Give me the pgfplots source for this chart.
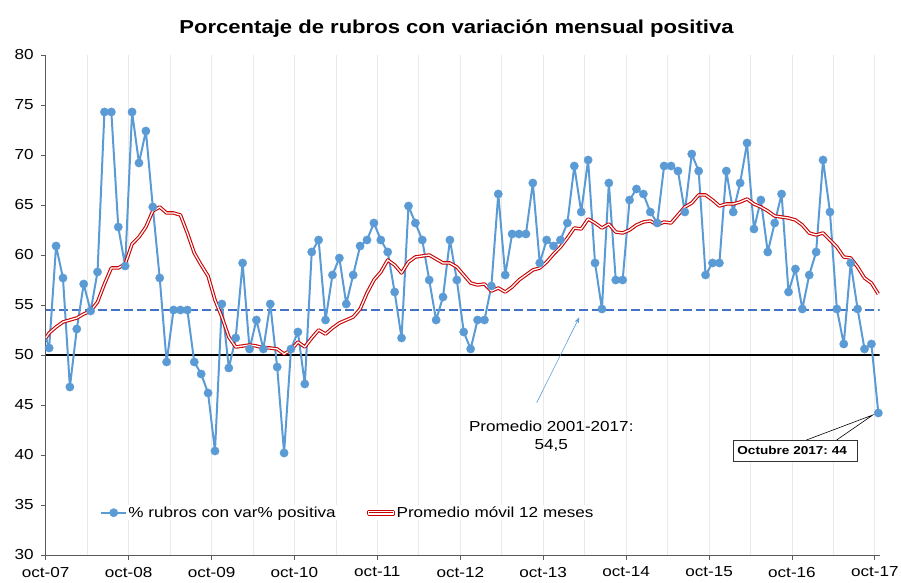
\documentclass[border=0pt]{standalone}
\usepackage{fontspec}
\setmainfont{Liberation Sans}[FakeStretch=1.18]
\usepackage{pgfplots}
\pgfplotsset{compat=1.18}
\usetikzlibrary{arrows.meta}
\definecolor{serieblue}{RGB}{91,155,213}
\definecolor{avgblue}{RGB}{68,114,196}
\definecolor{mared}{RGB}{204,0,0}
\definecolor{gridgray}{RGB}{234,234,234}
\definecolor{axgray}{RGB}{90,90,90}

\pgfplotstableread{
i v
0 50.7
1 60.9
2 57.7
3 46.8
4 52.6
5 57.1
6 54.4
7 58.3
8 74.3
9 74.3
10 62.8
11 58.9
12 74.3
13 69.2
14 72.4
15 64.8
16 57.7
17 49.3
18 54.5
19 54.5
20 54.5
21 49.3
22 48.1
23 46.2
24 40.4
25 55.1
26 48.7
27 51.7
28 59.2
29 50.6
30 53.5
31 50.6
32 55.1
33 48.8
34 40.2
35 50.6
36 52.3
37 47.1
38 60.3
39 61.5
40 53.5
41 58.0
42 59.7
43 55.1
44 58.0
45 60.9
46 61.5
47 63.2
48 61.5
49 60.3
50 56.3
51 51.7
52 64.9
53 63.2
54 61.5
55 57.5
56 53.5
57 55.8
58 61.5
59 57.5
60 52.3
61 50.6
62 53.5
63 53.5
64 56.9
65 66.1
66 58.0
67 62.1
68 62.1
69 62.1
70 67.2
71 59.2
72 61.5
73 60.9
74 61.5
75 63.2
76 68.9
77 64.3
78 69.5
79 59.2
80 54.6
81 67.2
82 57.5
83 57.5
84 65.5
85 66.6
86 66.1
87 64.3
88 63.2
89 68.9
90 68.9
91 68.4
92 64.3
93 70.1
94 68.4
95 58.0
96 59.2
97 59.2
98 68.4
99 64.3
100 67.2
101 71.2
102 62.6
103 65.5
104 60.3
105 63.2
106 66.1
107 56.3
108 58.6
109 54.6
110 58.0
111 60.3
112 69.5
113 64.3
114 54.6
115 51.1
116 59.2
117 54.6
118 50.6
119 51.1
120 44.2
}\rubros

\pgfplotstableread{
i v
-0.5 51.7
0 52.2
1 52.8
2 53.3
3 53.5
4 53.7
5 54.1
6 54.4
7 55.3
8 57.1
9 58.7
10 58.7
11 59.1
12 61.1
13 61.8
14 62.8
15 64.4
16 64.8
17 64.2
18 64.2
19 64.0
20 62.2
21 60.2
22 59.0
23 57.9
24 55.5
25 53.8
26 51.8
27 50.8
28 50.9
29 51.0
30 50.9
31 50.7
32 50.7
33 50.6
34 50.1
35 50.5
36 51.3
37 50.8
38 51.7
39 52.5
40 52.1
41 52.7
42 53.2
43 53.5
44 53.8
45 54.6
46 56.2
47 57.5
48 58.3
49 59.5
50 59.0
51 58.2
52 59.3
53 59.8
54 59.9
55 60.0
56 59.6
57 59.2
58 59.2
59 58.8
60 58.0
61 57.2
62 57.0
63 57.1
64 56.4
65 56.7
66 56.3
67 56.8
68 57.5
69 58.0
70 58.5
71 58.7
72 59.3
73 60.1
74 60.8
75 61.7
76 62.7
77 62.6
78 63.6
79 63.2
80 62.7
81 63.1
82 62.3
83 62.2
84 62.5
85 63.0
86 63.3
87 63.4
88 63.0
89 63.3
90 63.2
91 64.0
92 64.8
93 65.2
94 66.0
95 66.0
96 65.5
97 64.9
98 65.1
99 65.1
100 65.3
101 65.6
102 65.1
103 64.8
104 64.4
105 63.9
106 63.8
107 63.7
108 63.5
109 63.0
110 62.2
111 62.0
112 62.2
113 61.5
114 60.8
115 59.8
116 59.7
117 58.8
118 57.7
119 57.2
120 56.1
}\movil

\begin{document}
\begin{tikzpicture}
\begin{axis}[
  at={(0,0)}, anchor=south west,
  scale only axis, width=834bp, height=500bp,
  xmin=-0.5, xmax=120.2, ymin=30, ymax=80,
  axis x line*=bottom, axis y line*=left,
  axis line style={axgray, line width=0.8bp, -},
  tick align=outside, major tick length=4.5bp, minor tick length=0pt,
  tick style={axgray, line width=0.8bp},
  xtick={-0.5,11.5,23.5,35.5,47.5,59.5,71.5,83.5,95.5,107.5,119.5},
  xticklabels={oct-07,oct-08,oct-09,oct-10,oct-11,oct-12,oct-13,oct-14,oct-15,oct-16,oct-17},
  minor xtick={5.5,17.5,29.5,41.5,53.5,65.5,77.5,89.5,101.5,113.5},
  xmajorgrids, xminorgrids,
  major grid style={gridgray, line width=0.8bp},
  minor grid style={gridgray, line width=0.8bp},
  ytick={30,35,...,80},
  /pgf/number format/assume math mode=true,
  tick label style={font=\fontsize{14.5bp}{16bp}\selectfont, black},
  yticklabel style={xshift=-4bp},
  xticklabel style={yshift=-4bp},
  legend columns=2,
  legend style={draw=none, at={(0.0651,0.0846)}, anchor=west,
    inner sep=0pt, font=\fontsize{14.5bp}{16bp}\selectfont,
    nodes={inner sep=1.2bp},
    /tikz/every even column/.append style={column sep=30bp}},
  legend image code/.code={\draw[mark repeat=2,mark phase=2,#1] plot coordinates {(0bp,0bp) (12.5bp,0bp) (25bp,0bp)};},
]
\addplot[black, line width=2.6bp, forget plot] coordinates {(-0.5,50) (120.2,50)};
\addplot[avgblue, line width=2.8bp, dash pattern=on 9bp off 4bp, forget plot] coordinates {(-0.5,54.5) (120.2,54.5)};
\addplot[serieblue, line width=2bp, line join=round, forget plot] coordinates {(-1,53.0) (0,50.7)};
\addplot[serieblue, line width=2bp, line join=round, mark=*, mark size=4.2bp, mark options={fill=serieblue, draw=serieblue, line width=0.3bp}] table[x=i, y=v] {\rubros};
\addlegendentry{\% rubros con var\% positiva}
\addplot[draw=mared, color=mared, line width=1.1bp, line join=round, double=white, double distance=1.3bp,
  legend image code/.code={\path[draw={rgb,255:red,204;green,0;blue,0}, fill=white, line width=1.1bp] (0bp,-1.2bp) rectangle (25bp,1.2bp);}] table[x=i, y=v] {\movil};
\addlegendentry{Promedio móvil 12 meses}

\draw[serieblue, line width=0.6bp, -{Stealth[length=6bp,width=4.5bp]}] (axis cs:70.56,45.23) -- (axis cs:76.72,53.77);
\node[align=center, font=\fontsize{14.5bp}{18.3bp}\selectfont] at (axis cs:72.67,41.9) {Promedio 2001-2017:\\54,5};
\draw[black, line width=0.6bp] (axis cs:109.6,41.5) -- (axis cs:119.2,44.0) -- (axis cs:113.97,41.5);
\node[draw=black!80, line width=0.6bp, fill=white, text width=115bp, inner xsep=4.5bp, minimum height=21bp, align=left, font=\fontsize{11.5bp}{13bp}\selectfont\bfseries] at (axis cs:107.93,40.45) {Octubre 2017:~44};
\end{axis}
\node[anchor=base, font=\fontsize{18.7bp}{21bp}\selectfont\bfseries] at (410.8bp,521bp) {Porcentaje de rubros con variación mensual positiva};
\pgfresetboundingbox
\useasboundingbox (-45.7bp,-28bp) rectangle (855.3bp,555bp);
\end{tikzpicture}
\end{document}
